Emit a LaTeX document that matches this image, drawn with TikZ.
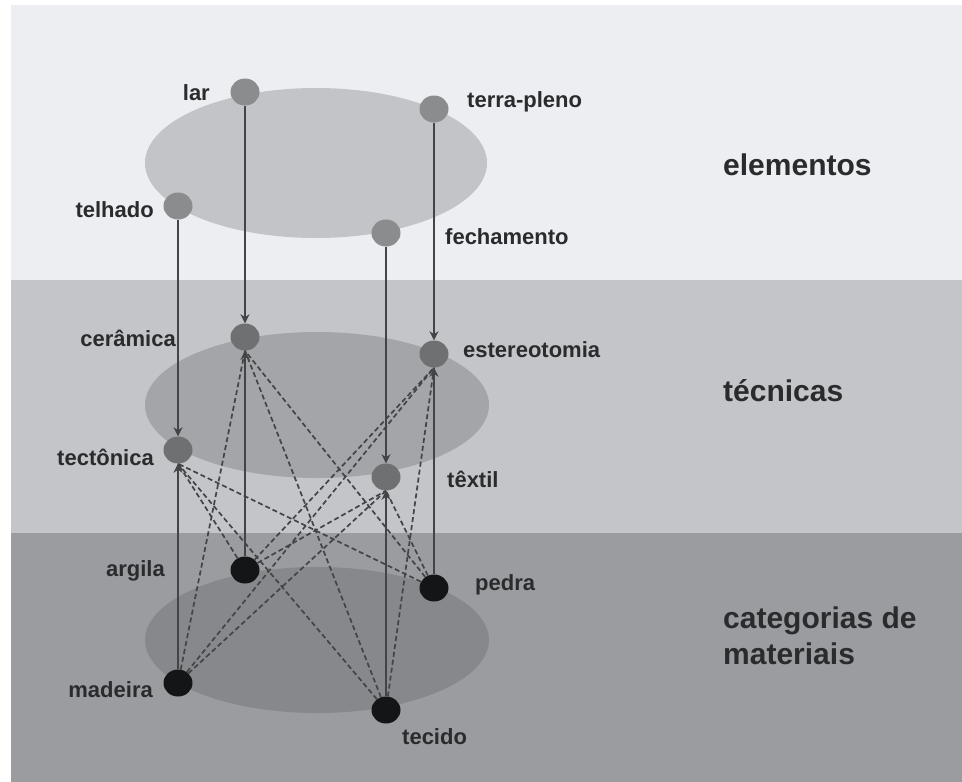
\documentclass[tikz,border=0pt]{standalone}
\usepackage{fontspec}
\setmainfont{Liberation Sans}
\usetikzlibrary{shapes.geometric,arrows.meta}
\definecolor{bandA}{HTML}{ECEEF1}
\definecolor{bandB}{HTML}{C4C5C8}
\definecolor{bandC}{HTML}{9A9CA0}
\definecolor{ellA}{HTML}{C3C4C7}
\definecolor{ellB}{HTML}{A3A5A8}
\definecolor{ellC}{HTML}{86888B}
\definecolor{dotA}{HTML}{8B8C8E}
\definecolor{dotB}{HTML}{6E7072}
\definecolor{dotC}{HTML}{141516}
\definecolor{lnk}{HTML}{434446}
\definecolor{txt}{HTML}{2A2B2D}
\begin{document}
\begin{tikzpicture}[x=1pt,y=-1pt,
  dot/.style={ellipse, minimum width=29pt, minimum height=27pt, inner sep=0pt, draw=none},
  topdot/.style={dot, fill=dotA},
  middot/.style={dot, fill=dotB},
  botdot/.style={dot, fill=dotC},
  lbl/.style={font=\bfseries\fontsize{22}{25}\selectfont, text=txt, inner sep=0pt},
  cat/.style={font=\bfseries\fontsize{30}{36}\selectfont, text=txt, inner sep=0pt, align=left},
  link/.style={draw=lnk, line width=2.2pt, -{Stealth[length=9pt,width=9pt]}},
  cross/.style={draw=lnk, line width=1.7pt, dash pattern=on 5pt off 3pt}]
\useasboundingbox (0,0) rectangle (962,782);
% bands
\fill[white] (0,0) rectangle (962,782);
\fill[bandA] (11,5) rectangle (962,280);
\fill[bandB] (11,280) rectangle (962,533);
\fill[bandC] (11,533) rectangle (962,782);
% level ellipses
\fill[ellA] (316,163) ellipse [x radius=171pt, y radius=75pt];
\fill[ellB] (317,405) ellipse [x radius=172pt, y radius=73pt];
\fill[ellC] (317,640) ellipse [x radius=172pt, y radius=73pt];
% nodes: elementos
\node[topdot] (lar) at (245,92) {};
\node[topdot] (ter) at (434,109) {};
\node[topdot] (tel) at (178,206) {};
\node[topdot] (fec) at (386,233) {};
% nodes: tecnicas
\node[middot] (cer) at (245,337) {};
\node[middot] (est) at (434,354) {};
\node[middot] (tec) at (178,450) {};
\node[middot] (tex) at (386,477) {};
% nodes: materiais
\node[botdot] (arg) at (245,570) {};
\node[botdot] (ped) at (434,588) {};
\node[botdot] (mad) at (178,683) {};
\node[botdot] (tcd) at (386,710) {};
% labels
\node[lbl, anchor=east] (lar-l) at (210,93) {lar};
\node[lbl, anchor=east] (tel-l) at (154,210) {telhado};
\node[lbl, anchor=east] (cer-l) at (176,338) {cerâmica};
\node[lbl, anchor=east] (tec-l) at (154,457) {tectônica};
\node[lbl, anchor=east] (arg-l) at (165,571) {argila};
\node[lbl, anchor=east] (mad-l) at (153,690) {madeira};
\node[lbl, anchor=west] (ter-l) at (467,102) {terra-pleno};
\node[lbl, anchor=west] (fec-l) at (445,237) {fechamento};
\node[lbl, anchor=west] (est-l) at (463,350) {estereotomia};
\node[lbl, anchor=west] (tex-l) at (447,479) {têxtil};
\node[lbl, anchor=west] (ped-l) at (475,585) {pedra};
\node[lbl, anchor=west] (tcd-l) at (402,737) {tecido};
\node[cat, anchor=west] (c1) at (723,165) {elementos};
\node[cat, anchor=west] (c2) at (723,391) {técnicas};
\node[cat, anchor=west] (c3) at (723,636) {categorias de\\materiais};
% dashed cross links (materials to other techniques)
\draw[cross] (mad) -- (cer.south);
\draw[cross] (ped) -- (cer.south);
\draw[cross] (tcd) -- (cer.south);
\draw[cross] (mad) -- (est.south);
\draw[cross] (arg) -- (est.south);
\draw[cross] (tcd) -- (est.south);
\draw[cross] (arg) -- (tec.south);
\draw[cross] (ped) -- (tec.south);
\draw[cross] (tcd) -- (tec.south);
\draw[cross] (mad) -- (tex.south);
\draw[cross] (arg) -- (tex.south);
\draw[cross] (ped) -- (tex.south);
% solid vertical links
\draw[link] (lar) -- (cer);
\draw[link] (ter) -- (est);
\draw[link] (tel) -- (tec);
\draw[link] (fec) -- (tex);
\draw[link] (arg) -- (cer);
\draw[link] (ped) -- (est);
\draw[link] (mad) -- (tec);
\draw[link] (tcd) -- (tex);
\end{tikzpicture}
\end{document}
